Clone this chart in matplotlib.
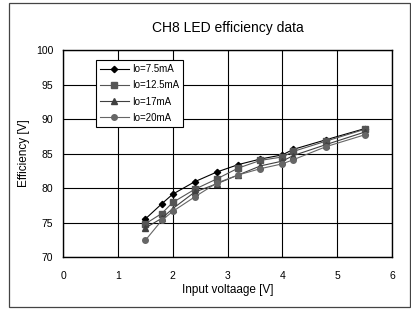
import matplotlib.pyplot as plt
from matplotlib.patches import Rectangle

# Input voltage points
voltage = [1.5, 1.8, 2.0, 2.4, 2.8, 3.2, 3.6, 4.0, 4.2, 4.8, 5.5]

# Efficiency per output current
eff_7_5 = [75.5, 77.7, 79.1, 80.9, 82.3, 83.4, 84.2, 84.8, 85.6, 87.0, 88.6]
eff_12_5 = [74.8, 76.3, 77.9, 79.8, 81.3, 82.9, 84.0, 84.5, 85.3, 86.8, 88.5]
eff_17 = [74.2, 75.6, 77.0, 79.4, 80.6, 81.9, 83.2, 83.9, 84.7, 86.3, 88.1]
eff_20 = [72.4, 75.3, 76.6, 78.7, 80.7, 81.9, 82.8, 83.5, 84.1, 86.0, 87.7]

labels = ['Io=7.5mA', 'Io=12.5mA', 'Io=17mA', 'Io=20mA']
colors = ['#000000', '#555555', '#404040', '#666666']
markers = ['D', 's', '^', 'o']
msizes = [3.2, 3.8, 4.0, 4.0]

fig = plt.figure(figsize=(4.11, 3.11), dpi=100)
plt.rcParams['font.family'] = ['Liberation Sans', 'DejaVu Sans']

# outer frame
fig.patches.append(Rectangle((9 / 411, 1 - 307 / 311), 401 / 411, 304 / 311,
                             transform=fig.transFigure, fill=False,
                             edgecolor='#444444', lw=0.9))

ax = fig.add_axes([63 / 411, 1 - 257 / 311, 329 / 411, 207 / 311])

for y, lab, c, m, ms in zip([eff_7_5, eff_12_5, eff_17, eff_20], labels, colors, markers, msizes):
    ax.plot(voltage, y, color=c, marker=m, markersize=ms, lw=0.8, label=lab)

ax.set_xlim(0, 6)
ax.set_ylim(70, 100)
ax.set_xticks(range(0, 7))
ax.set_yticks(range(70, 101, 5))
ax.grid(True, color='black', lw=0.8)
ax.tick_params(length=0, labelsize=7.5)
ax.tick_params(axis='x', pad=10)
ax.tick_params(axis='y', pad=7)
for s in ax.spines.values():
    s.set_linewidth(1.0)

ax.set_title('CH8 LED efficiency data', fontsize=10, pad=13)
ax.set_xlabel('Input voltaage [V]', fontsize=8.5, labelpad=2)
ax.set_ylabel('Efficiency [V]', fontsize=8.5, labelpad=4)

leg = ax.legend(loc='upper left', bbox_to_anchor=(0.085, 0.975), fontsize=7,
                frameon=True, fancybox=False, edgecolor='black', framealpha=1,
                borderpad=0.4, labelspacing=0.65, handlelength=3.0, handletextpad=0.3)
leg.get_frame().set_linewidth(0.8)

fig.savefig('out.png', dpi=100)
